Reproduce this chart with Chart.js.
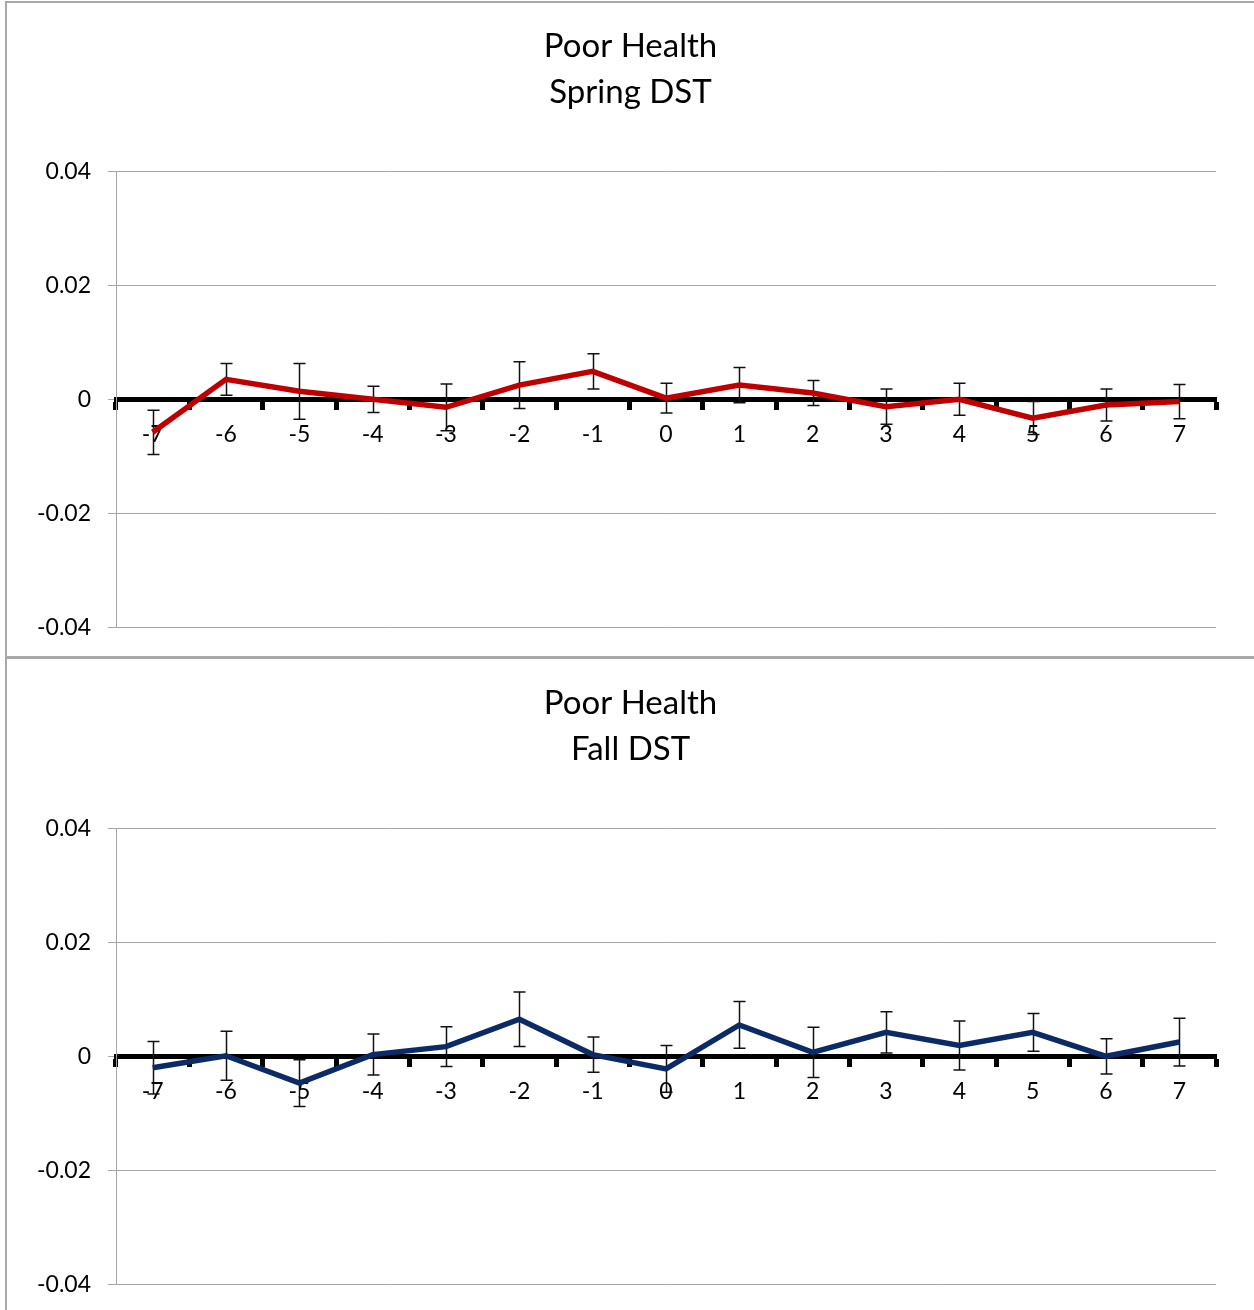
<!DOCTYPE html>
<html>
<head>
<meta charset="utf-8">
<title>Poor Health – DST</title>
<script src="https://cdn.jsdelivr.net/npm/chart.js@4/dist/chart.umd.min.js"></script>
<style>
  html, body { margin: 0; padding: 0; background: #ffffff; }
  body { width: 1254px; height: 1310px; position: relative; overflow: hidden; }
  .panel { position: absolute; left: 5px; width: 1270px; border: 2px solid #a9a9a9; box-sizing: border-box; background: #fff; }
  #p1 { top: 1px; height: 657px; }
  #p2 { top: 657px; height: 670px; }
  canvas { position: absolute; left: 7px; }
  #c1 { top: 3px; }
  #c2 { top: 660px; }
</style>
</head>
<body>
<div class="panel" id="p1"></div>
<div class="panel" id="p2"></div>
<canvas id="c1" width="1247" height="655"></canvas>
<canvas id="c2" width="1247" height="655"></canvas>
<script>
// Days relative to the DST transition
const days = ['-7', '-6', '-5', '-4', '-3', '-2', '-1', '0', '1', '2', '3', '4', '5', '6', '7'];

// Value axis ticks
const yTicks = [0.04, 0.02, 0, -0.02, -0.04];

// Spring DST: estimates and half-width of the error bars
const springValues = [-0.0058, 0.0035, 0.0014, 0.0000, -0.0014, 0.0025, 0.0049, 0.0002, 0.0025, 0.0011, -0.0013, 0.0000, -0.0033, -0.0010, -0.0004];
const springErrors = [0.0039, 0.0028, 0.0049, 0.0023, 0.0041, 0.0041, 0.0031, 0.0026, 0.0031, 0.0022, 0.0031, 0.0028, 0.0029, 0.0028, 0.0030];

// Fall DST: estimates and half-width of the error bars
const fallValues = [-0.0020, 0.0001, -0.0047, 0.0003, 0.0017, 0.0065, 0.0003, -0.0022, 0.0055, 0.0007, 0.0042, 0.0019, 0.0042, 0.0000, 0.0025];
const fallErrors = [0.0046, 0.0043, 0.0041, 0.0036, 0.0035, 0.0048, 0.0031, 0.0041, 0.0041, 0.0044, 0.0036, 0.0043, 0.0033, 0.0031, 0.0042];

const FONT = 'Lato, "Open Sans", "DejaVu Sans", sans-serif';

// Draws vertical error bars with caps under the line series
const errorBarPlugin = {
  id: 'errorBars',
  beforeDatasetsDraw(chart, args, opts) {
    const { ctx, scales: { x, y } } = chart;
    const values = chart.data.datasets[0].data;
    const errs = opts.errors || [];
    ctx.save();
    ctx.strokeStyle = '#111111';
    ctx.lineWidth = 1.5;
    const cap = 6;
    values.forEach((v, i) => {
      const e = errs[i];
      if (e == null) return;
      const px = Math.round(x.getPixelForValue(i)) + 0.5;
      const top = y.getPixelForValue(v + e);
      const bot = y.getPixelForValue(v - e);
      ctx.beginPath();
      ctx.moveTo(px, top); ctx.lineTo(px, bot);
      ctx.moveTo(px - cap, top); ctx.lineTo(px + cap, top);
      ctx.moveTo(px - cap, bot); ctx.lineTo(px + cap, bot);
      ctx.stroke();
    });
    ctx.restore();
  }
};

function makeChart(canvasId, titleLines, values, errors, color) {
  return new Chart(document.getElementById(canvasId), {
    type: 'line',
    data: {
      labels: days,
      datasets: [{
        data: values,
        borderColor: color,
        backgroundColor: color,
        borderWidth: 5.5,
        pointRadius: 0,
        pointHoverRadius: 0,
        tension: 0,
        fill: false
      }]
    },
    plugins: [errorBarPlugin],
    options: {
      responsive: false,
      animation: false,
      events: [],
      layout: { padding: { left: 0, right: 0, top: 0, bottom: 30 } },
      plugins: {
        legend: { display: false },
        tooltip: { enabled: false },
        errorBars: { errors: errors },
        title: {
          display: true,
          text: titleLines,
          color: '#000000',
          font: { family: FONT, size: 33, weight: 'normal', lineHeight: 1.4 },
          padding: { top: 20, bottom: 56 }
        }
      },
      scales: {
        x: {
          type: 'category',
          position: { y: 0 },
          offset: true,
          border: { display: true, color: '#000000', width: 5 },
          grid: {
            display: true,
            offset: true,
            drawOnChartArea: false,
            drawTicks: true,
            tickLength: 8,
            tickWidth: 5,
            tickColor: '#000000'
          },
          ticks: {
            color: '#000000',
            font: { family: FONT, size: 23 },
            padding: 13,
            maxRotation: 0,
            autoSkip: false
          }
        },
        y: {
          min: -0.04,
          max: 0.04,
          afterFit(scale) { scale.width = 109; },
          afterBuildTicks(scale) { scale.ticks = yTicks.map(v => ({ value: v })); },
          border: { display: true, color: '#a6a6a6', width: 1 },
          grid: {
            color: '#a6a6a6',
            lineWidth: 1,
            drawTicks: true,
            tickLength: 8,
            tickColor: '#a6a6a6'
          },
          ticks: {
            color: '#000000',
            font: { family: FONT, size: 23 },
            padding: 17,
            callback: v => (v === 0 ? '0' : String(Number(v.toFixed(2))))
          }
        },
        // empty right-hand margin so the plot stops short of the panel edge
        gutter: {
          type: 'linear',
          position: 'right',
          display: true,
          afterFit(scale) { scale.width = 38; },
          border: { display: false },
          grid: { display: false, drawTicks: false },
          ticks: { display: false }
        }
      }
    }
  });
}

makeChart('c1', ['Poor Health', 'Spring DST'], springValues, springErrors, '#c00000');
makeChart('c2', ['Poor Health', 'Fall DST'], fallValues, fallErrors, '#0b2a66');
</script>
</body>
</html>
